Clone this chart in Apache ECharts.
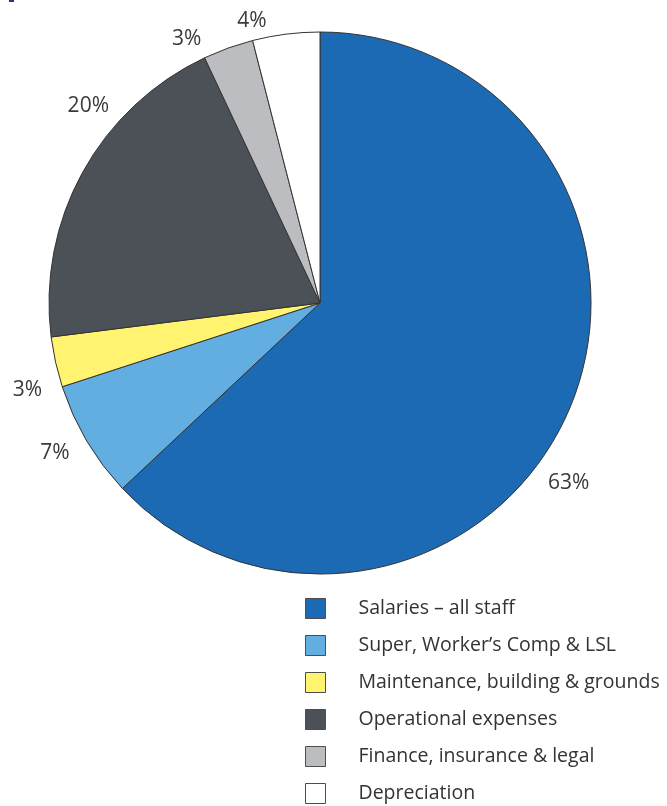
<!DOCTYPE html>
<html>
<head>
<meta charset="utf-8">
<title>Expenditure breakdown</title>
<script src="https://cdn.jsdelivr.net/npm/echarts@6/dist/echarts.min.js"></script>
<style>
  html, body { margin: 0; padding: 0; background: #ffffff; }
  #chart { width: 667px; height: 806px; }
</style>
</head>
<body>
<div id="chart"></div>
<script>
// Expenditure categories and their share of the total (%)
const categories = [
  'Salaries – all staff',
  'Super, Worker’s Comp & LSL',
  'Maintenance, building & grounds',
  'Operational expenses',
  'Finance, insurance & legal',
  'Depreciation'
];
const shares = [63, 7, 3, 20, 3, 4];

// Slice fills, in category order
const sliceColors = ['#1d6ab4', '#62aee0', '#fff36f', '#4b5157', '#bcbdc1', '#ffffff'];

// Per-label nudges away from the default outside position
const labelNudge = [
  [-39, 64],
  [0, 2],
  [6, 24],
  [44, -57],
  [-20, 10],
  [-17, 7]
];

const chart = echarts.init(document.getElementById('chart'), null, { renderer: 'canvas' });

chart.setOption({
  animation: false,
  backgroundColor: '#ffffff',
  color: sliceColors,
  graphic: [
    { type: 'rect', shape: { x: 9, y: 0, width: 5, height: 2 }, style: { fill: '#21397a' } }
  ],
  legend: {
    orient: 'vertical',
    left: 305,
    top: 598,
    height: 400,
    padding: 0,
    itemWidth: 20,
    itemHeight: 20,
    itemGap: 16,
    icon: 'rect',
    selectedMode: false,
    itemStyle: { borderColor: '#4d4d4d', borderWidth: 1 },
    textStyle: {
      fontFamily: 'Open Sans',
      fontSize: 19.5,
      lineHeight: 20,
      color: '#333333',
      padding: [0, 0, 0, 28]
    },
    data: categories
  },
  series: [{
    type: 'pie',
    center: [320, 303],
    radius: [0, 271],
    startAngle: 90,
    clockwise: true,
    avoidLabelOverlap: false,
    itemStyle: { borderColor: '#333333', borderWidth: 1 },
    emphasis: { disabled: true },
    label: {
      show: true,
      position: 'outside',
      formatter: '{c}%',
      fontFamily: 'Open Sans',
      fontSize: 21,
      color: '#3a3a3a',
      distanceToLabelLine: 0
    },
    labelLine: { show: false, length: 20, length2: 0 },
    labelLayout: function (params) {
      const n = labelNudge[params.dataIndex] || [0, 0];
      return { dx: n[0], dy: n[1] };
    },
    data: categories.map((name, i) => ({ name: name, value: shares[i] }))
  }]
});
</script>
</body>
</html>
